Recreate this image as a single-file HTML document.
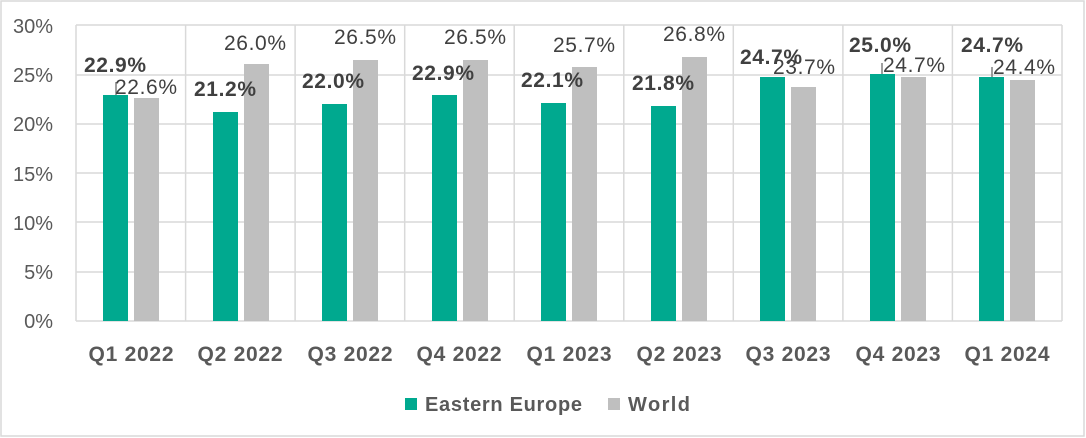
<!DOCTYPE html>
<html><head><meta charset="utf-8"><style>
body{margin:0;background:#fff}
svg{display:block;font-family:"Liberation Sans",sans-serif}
</style></head><body>
<svg width="1086" height="438" viewBox="0 0 1086 438">
<rect x="1" y="1" width="1083" height="435" fill="#fff" stroke="#d9d9d9" stroke-width="1.5"/>
<g stroke="#d9d9d9" stroke-width="1.5">
<line x1="76" y1="25" x2="1062" y2="25"/><line x1="76" y1="75" x2="1062" y2="75"/>
<line x1="76" y1="124" x2="1062" y2="124"/><line x1="76" y1="173" x2="1062" y2="173"/>
<line x1="76" y1="222" x2="1062" y2="222"/><line x1="76" y1="272" x2="1062" y2="272"/>
<line x1="76" y1="321" x2="1062" y2="321"/>
<line x1="76" y1="25" x2="76" y2="321"/><line x1="185.6" y1="25" x2="185.6" y2="321"/>
<line x1="295.1" y1="25" x2="295.1" y2="321"/><line x1="404.7" y1="25" x2="404.7" y2="321"/>
<line x1="514.2" y1="25" x2="514.2" y2="321"/><line x1="623.8" y1="25" x2="623.8" y2="321"/>
<line x1="733.3" y1="25" x2="733.3" y2="321"/><line x1="842.9" y1="25" x2="842.9" y2="321"/>
<line x1="952.4" y1="25" x2="952.4" y2="321"/><line x1="1062" y1="25" x2="1062" y2="321"/>
</g>
<g fill="#595959" font-size="20" text-anchor="end">
<text x="53" y="33">30%</text><text x="53" y="82">25%</text><text x="53" y="131">20%</text>
<text x="53" y="181">15%</text><text x="53" y="230">10%</text><text x="53" y="279">5%</text>
<text x="53" y="328">0%</text>
</g>
<g fill="#00a98f">
<rect x="103" y="95" width="25" height="226"/><rect x="213" y="112" width="25" height="209"/>
<rect x="322" y="104" width="25" height="217"/><rect x="432" y="95" width="25" height="226"/>
<rect x="541" y="103" width="25" height="218"/><rect x="651" y="106" width="25" height="215"/>
<rect x="760" y="77" width="25" height="244"/><rect x="870" y="74" width="25" height="247"/>
<rect x="979" y="77" width="25" height="244"/>
</g>
<g fill="#bfbfbf">
<rect x="134" y="98" width="25" height="223"/><rect x="244" y="64" width="25" height="257"/>
<rect x="353" y="60" width="25" height="261"/><rect x="463" y="60" width="25" height="261"/>
<rect x="572" y="67" width="25" height="254"/><rect x="682" y="57" width="25" height="264"/>
<rect x="791" y="87" width="25" height="234"/><rect x="901" y="77" width="25" height="244"/>
<rect x="1010" y="80" width="25" height="241"/>
</g>
<g stroke="#7f7f7f" stroke-width="1.5">
<line x1="116" y1="82" x2="116" y2="95"/><line x1="882" y1="63" x2="882" y2="74"/><line x1="992" y1="67" x2="992" y2="77"/>
</g>
<g fill="#404040" font-size="21" font-weight="bold" text-anchor="middle">
<text x="115" y="72" textLength="62">22.9%</text><text x="225" y="96" textLength="62">21.2%</text><text x="333" y="88" textLength="62">22.0%</text>
<text x="443" y="80" textLength="62">22.9%</text><text x="552" y="87" textLength="62">22.1%</text><text x="663" y="90" textLength="62">21.8%</text>
<text x="771" y="64" textLength="62">24.7%</text><text x="880" y="52" textLength="62">25.0%</text><text x="992" y="52" textLength="62">24.7%</text>
</g>
<g fill="#404040" font-size="21" text-anchor="middle">
<text x="146" y="94" textLength="62">22.6%</text><text x="255" y="50" textLength="62">26.0%</text><text x="365" y="44" textLength="62">26.5%</text>
<text x="475" y="44" textLength="62">26.5%</text><text x="584" y="52" textLength="62">25.7%</text><text x="694" y="41" textLength="62">26.8%</text>
<text x="804" y="74" textLength="62">23.7%</text><text x="914" y="72" textLength="62">24.7%</text><text x="1024" y="74" textLength="62">24.4%</text>
</g>
<g fill="#595959" font-size="21" font-weight="bold" text-anchor="middle">
<text x="131" y="361" textLength="85">Q1 2022</text><text x="240" y="361" textLength="85">Q2 2022</text><text x="350" y="361" textLength="85">Q3 2022</text>
<text x="459" y="361" textLength="85">Q4 2022</text><text x="569" y="361" textLength="85">Q1 2023</text><text x="679" y="361" textLength="85">Q2 2023</text>
<text x="788" y="361" textLength="85">Q3 2023</text><text x="898" y="361" textLength="85">Q4 2023</text><text x="1007" y="361" textLength="85">Q1 2024</text>
</g>
<rect x="405" y="398" width="12" height="12" fill="#00a98f"/>
<text x="425" y="411" fill="#595959" font-size="20" font-weight="bold" textLength="157">Eastern Europe</text>
<rect x="608" y="398" width="12" height="12" fill="#bfbfbf"/>
<text x="628" y="411" fill="#595959" font-size="20" font-weight="bold" textLength="62">World</text>
</svg>
</body></html>
